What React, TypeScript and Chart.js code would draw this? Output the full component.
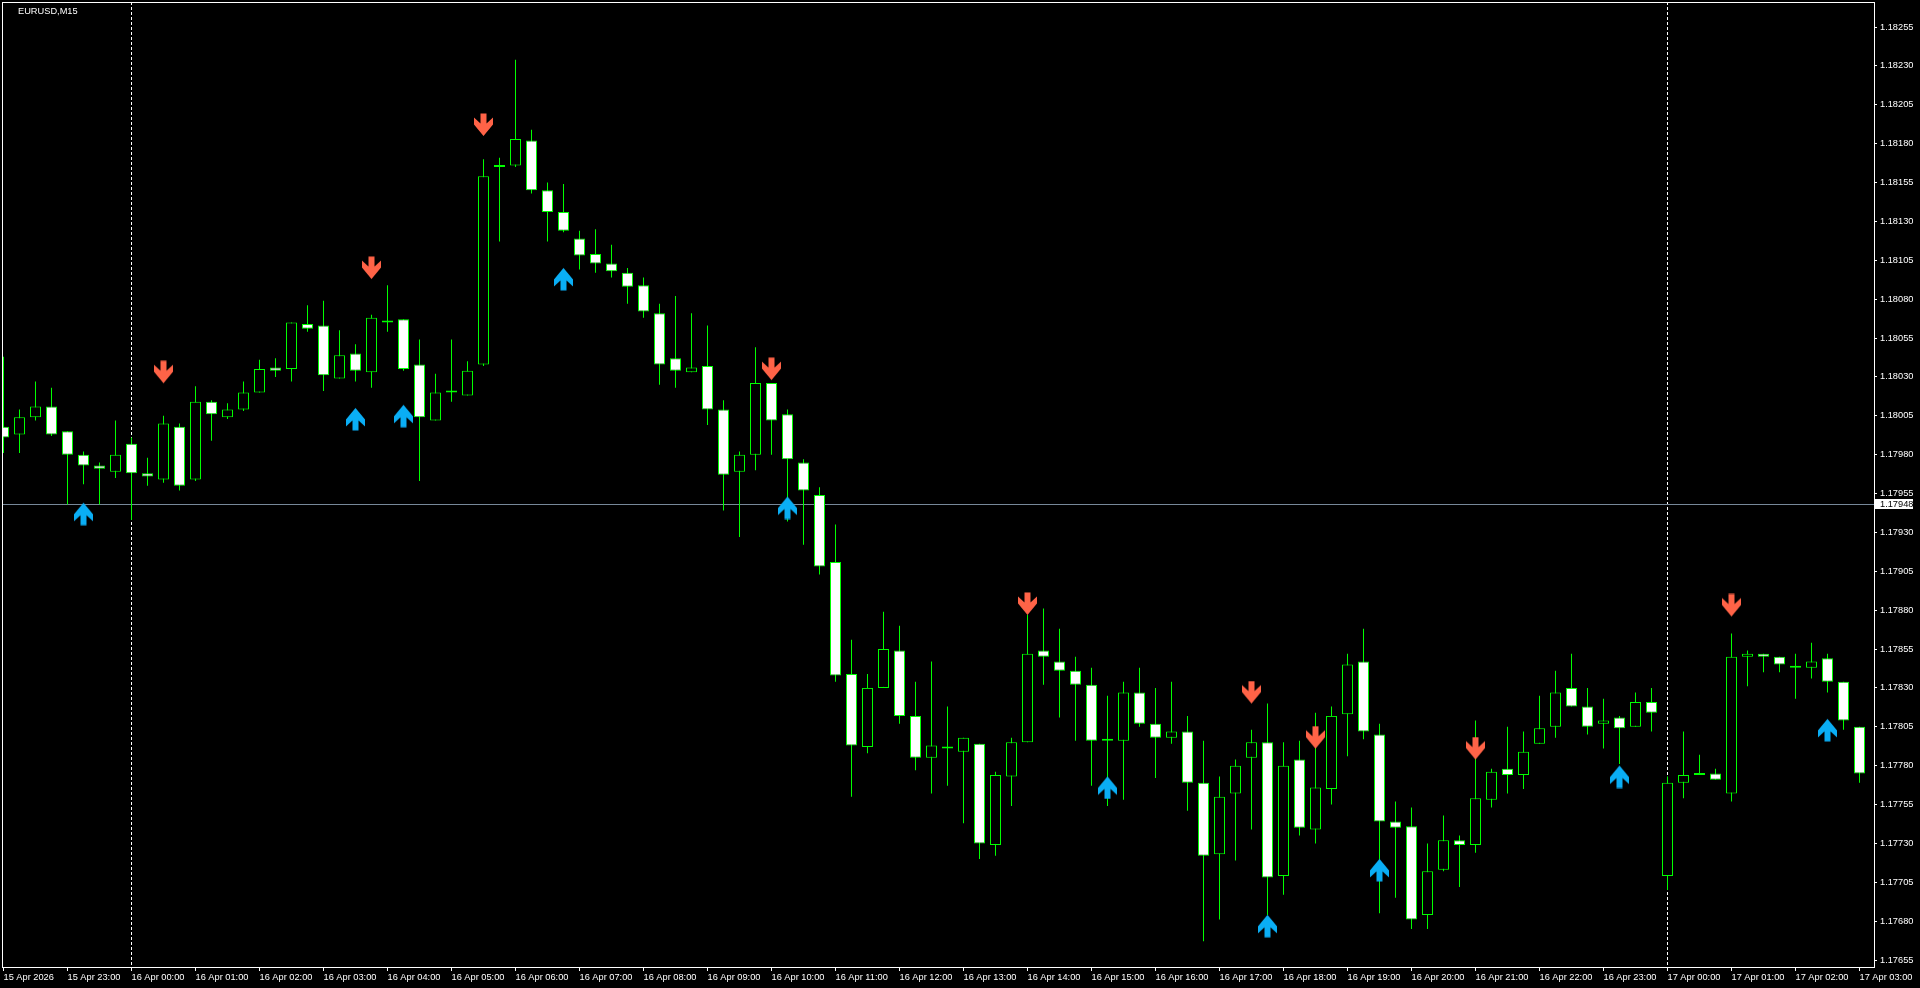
import React, { useEffect, useRef } from "react";
import { Chart, registerables } from "chart.js";

Chart.register(...registerables);

// ---- data (bar slots are counted in 15-minute bars from 16 Apr 00:00) ----
const chartTitle = "EURUSD,M15";
const firstBarSlot = -8;

const opens = [
  1.17998, 1.17993, 1.18004, 1.18011, 1.17995, 1.1798, 1.17973, 1.17969,
  1.17987, 1.17968, 1.17964, 1.17998, 1.17964, 1.18014, 1.18004, 1.18009, 1.1802, 1.18036,
  1.18035, 1.18064, 1.18063, 1.18029, 1.18045, 1.18033, 1.18065, 1.18067, 1.18038, 1.18002,
  1.1802, 1.18018, 1.18038, 1.18165, 1.18166, 1.18182, 1.1815, 1.18136, 1.18119, 1.18109,
  1.18103, 1.18097, 1.18089, 1.18071, 1.18042, 1.18033, 1.18037, 1.18009, 1.17969, 1.1798,
  1.18026, 1.18006, 1.17975, 1.17954, 1.17911, 1.17839, 1.17792, 1.1783, 1.17854, 1.17812,
  1.17785, 1.17792, 1.17789, 1.17794, 1.17729, 1.17773, 1.17795, 1.17854, 1.17847, 1.17841,
  1.17832, 1.17797, 1.17796, 1.17827, 1.17807, 1.17798, 1.17802, 1.17769, 1.17723, 1.17762,
  1.17785, 1.17795, 1.17709, 1.17784, 1.17739, 1.17765, 1.17813, 1.17847, 1.178, 1.17744,
  1.17741, 1.17684, 1.17713, 1.17732, 1.17729, 1.17758, 1.17778, 1.17774, 1.17794, 1.17805,
  1.1783, 1.17818, 1.17807, 1.17811, 1.17805, 1.17821, 1.17709, 1.17769, 1.17774, 1.17775,
  1.17762, 1.1785, 1.17852, 1.1785, 1.17843, 1.17843, 1.17849, 1.17834, 1.17805,
];
const highs = [
  1.18043, 1.18009, 1.18027, 1.18023, 1.17995, 1.17982, 1.17975, 1.18002,
  1.17991, 1.17978, 1.18005, 1.18, 1.18024, 1.18015, 1.18013, 1.18027, 1.18041, 1.18042,
  1.18065, 1.18076, 1.18079, 1.1806, 1.18051, 1.1807, 1.18089, 1.18067, 1.18054, 1.18032,
  1.18054, 1.1804, 1.1817, 1.18171, 1.18234, 1.18189, 1.18155, 1.18154, 1.18124, 1.18125,
  1.18115, 1.181, 1.18094, 1.18077, 1.18082, 1.18071, 1.18063, 1.18015, 1.17982, 1.18049,
  1.18026, 1.18009, 1.17977, 1.17959, 1.17935, 1.17861, 1.17839, 1.17879, 1.1787, 1.17834,
  1.17847, 1.17818, 1.17798, 1.17794, 1.17776, 1.17798, 1.17877, 1.17881, 1.17868, 1.1785,
  1.17843, 1.17825, 1.17834, 1.17843, 1.1783, 1.17834, 1.17812, 1.17796, 1.17773, 1.17784,
  1.17803, 1.1782, 1.17795, 1.17796, 1.17814, 1.17818, 1.17852, 1.17868, 1.17807, 1.17757,
  1.17753, 1.1773, 1.17748, 1.17735, 1.17809, 1.17778, 1.17805, 1.17802, 1.17825, 1.17841,
  1.17852, 1.1783, 1.17823, 1.17812, 1.17827, 1.1783, 1.17773, 1.17802, 1.17787, 1.17778,
  1.17865, 1.17854, 1.17852, 1.1785, 1.17852, 1.17859, 1.17852, 1.17834, 1.17805,
];
const lows = [
  1.17981, 1.17981, 1.18002, 1.17992, 1.17948, 1.17961, 1.17948, 1.17965,
  1.17938, 1.1796, 1.17962, 1.17957, 1.17963, 1.17989, 1.18003, 1.18008, 1.1802, 1.1803,
  1.18027, 1.18059, 1.18021, 1.18029, 1.18027, 1.18023, 1.18059, 1.18034, 1.17963, 1.18002,
  1.18014, 1.18018, 1.18037, 1.18117, 1.18165, 1.18148, 1.18117, 1.18123, 1.18099, 1.18097,
  1.18094, 1.18077, 1.18068, 1.18025, 1.18023, 1.18033, 1.17999, 1.17944, 1.17927, 1.1797,
  1.1798, 1.17937, 1.17922, 1.17903, 1.17834, 1.1776, 1.17788, 1.1783, 1.17807, 1.17777,
  1.17762, 1.17767, 1.17743, 1.1772, 1.17722, 1.17754, 1.17795, 1.17832, 1.17811, 1.17796,
  1.17767, 1.17754, 1.17758, 1.17805, 1.17772, 1.17794, 1.17751, 1.17667, 1.17681, 1.17719,
  1.17739, 1.17684, 1.17697, 1.17735, 1.1773, 1.17755, 1.17786, 1.17797, 1.17685, 1.17695,
  1.17675, 1.17675, 1.17712, 1.17702, 1.17724, 1.17753, 1.17762, 1.17765, 1.17794, 1.17798,
  1.17818, 1.178, 1.17791, 1.17781, 1.17805, 1.17802, 1.177, 1.17759, 1.17774, 1.17771,
  1.17757, 1.17831, 1.1784, 1.1784, 1.17823, 1.17836, 1.17827, 1.17803, 1.17769,
];
const closes = [
  1.17991, 1.18004, 1.18011, 1.17993, 1.1798, 1.17973, 1.17971, 1.1798,
  1.17968, 1.17966, 1.18, 1.1796, 1.18014, 1.18006, 1.18009, 1.1802, 1.18035, 1.18034,
  1.18065, 1.18061, 1.18031, 1.18044, 1.18034, 1.18068, 1.18065, 1.18035, 1.18004, 1.1802,
  1.1802, 1.18034, 1.18159, 1.18166, 1.18183, 1.1815, 1.18136, 1.18124, 1.18108, 1.18103,
  1.18098, 1.18088, 1.18072, 1.18038, 1.18034, 1.18036, 1.18009, 1.17967, 1.1798, 1.18026,
  1.18002, 1.17977, 1.17957, 1.17908, 1.17838, 1.17793, 1.1783, 1.17855, 1.17812, 1.17785,
  1.17793, 1.17791, 1.17798, 1.1773, 1.17774, 1.17795, 1.17852, 1.1785, 1.17841, 1.17832,
  1.17796, 1.17796, 1.17827, 1.17807, 1.17798, 1.17802, 1.17769, 1.17722, 1.1776, 1.1778,
  1.17795, 1.17708, 1.1778, 1.1774, 1.17766, 1.17812, 1.17845, 1.17802, 1.17744, 1.1774,
  1.17681, 1.17712, 1.17732, 1.17729, 1.17759, 1.17776, 1.17774, 1.17789, 1.17804, 1.17827,
  1.17818, 1.17805, 1.17809, 1.17804, 1.17821, 1.17814, 1.17769, 1.17774, 1.17774, 1.17771,
  1.1785, 1.17852, 1.1785, 1.17845, 1.17843, 1.17847, 1.17834, 1.17809, 1.17775,
];

const sellArrowSlots = [2, 15, 22, 40, 56, 70, 74, 84, 100];
const sellArrowPrices = [1.18033, 1.181, 1.18192, 1.18035, 1.17884, 1.17827, 1.17798, 1.17791, 1.17883];
const buyArrowSlots = [-3, 14, 17, 27, 41, 61, 71, 78, 93, 106];
const buyArrowPrices = [1.17942, 1.18003, 1.18005, 1.18093, 1.17946, 1.17766, 1.17677, 1.17713, 1.17773, 1.17803];

const timeTickSlots = [-8, -4, 0, 4, 8, 12, 16, 20, 24, 28, 32, 36, 40, 44, 48, 52, 56, 60, 64, 68, 72, 76, 80, 84, 88, 92, 96, 100, 104, 108];
const timeTickLabels = [
  "15 Apr 2026", "15 Apr 23:00", "16 Apr 00:00", "16 Apr 01:00", "16 Apr 02:00", "16 Apr 03:00",
  "16 Apr 04:00", "16 Apr 05:00", "16 Apr 06:00", "16 Apr 07:00", "16 Apr 08:00", "16 Apr 09:00",
  "16 Apr 10:00", "16 Apr 11:00", "16 Apr 12:00", "16 Apr 13:00", "16 Apr 14:00", "16 Apr 15:00",
  "16 Apr 16:00", "16 Apr 17:00", "16 Apr 18:00", "16 Apr 19:00", "16 Apr 20:00", "16 Apr 21:00",
  "16 Apr 22:00", "16 Apr 23:00", "17 Apr 00:00", "17 Apr 01:00", "17 Apr 02:00", "17 Apr 03:00",
];
const priceTicks = [
  1.18255, 1.1823, 1.18205, 1.1818, 1.18155, 1.1813, 1.18105, 1.1808, 1.18055, 1.1803, 1.18005,
  1.1798, 1.17955, 1.1793, 1.17905, 1.1788, 1.17855, 1.1783, 1.17805, 1.1778, 1.17755, 1.1773,
  1.17705, 1.1768, 1.17655,
];
const daySeparatorSlots = [0, 96];
const bidPrice = 1.17948;

// view window
const viewSlotMin = -8.09375;
const viewSlotMax = 108.90625;
const viewPriceMin = 1.176505;
const viewPriceMax = 1.182711;

const FONT_FAMILY = "'Liberation Sans', Arial, sans-serif";
const FONT_SIZE = 9.25;

function makeArrow(color: string, down: boolean) {
  const c = document.createElement("canvas");
  c.width = 21;
  c.height = 24;
  const g = c.getContext("2d")!;
  const cx = 10.5;
  const pts: [number, number][] = [
    [cx - 3, 0.5], [cx + 3, 0.5], [cx + 3, 10.5], [cx + 9.5, 4.5], [cx + 9.5, 11.5],
    [cx, 23], [cx - 9.5, 11.5], [cx - 9.5, 4.5], [cx - 3, 10.5],
  ];
  g.fillStyle = color;
  g.beginPath();
  pts.forEach(([x, y], i) => {
    const yy = down ? y : 24 - y;
    if (i === 0) g.moveTo(x, yy);
    else g.lineTo(x, yy);
  });
  g.closePath();
  g.fill();
  return c;
}

export default function App() {
  const ref = useRef<HTMLCanvasElement>(null);

  useEffect(() => {
    document.body.style.margin = "0";
    document.body.style.background = "#000";
    const canvas = ref.current!;
    const sellImg = makeArrow("#ff6347", true);
    const buyImg = makeArrow("#0aaef5", false);
    const slots = opens.map((_, i) => firstBarSlot + i);
    const font = { family: FONT_FAMILY, size: FONT_SIZE };

    const overlay = {
      id: "mtOverlay",
      beforeDraw(chart: any) {
        const c = chart.ctx;
        c.save();
        c.fillStyle = "#000";
        c.fillRect(0, 0, chart.width, chart.height);
        c.restore();
      },
      beforeDatasetsDraw(chart: any) {
        const c = chart.ctx;
        const a = chart.chartArea;
        const y = Math.round(chart.scales.y.getPixelForValue(bidPrice)) + 0.5;
        c.save();
        c.strokeStyle = "#778899";
        c.lineWidth = 1;
        c.beginPath();
        c.moveTo(a.left, y);
        c.lineTo(a.right, y);
        c.stroke();
        c.restore();
      },
      afterDraw(chart: any) {
        const c = chart.ctx;
        const a = chart.chartArea;
        c.save();
        c.strokeStyle = "#ffffff";
        c.lineWidth = 1;
        c.strokeRect(a.left + 0.5, a.top + 0.5, a.right - a.left, a.bottom - a.top);
        c.font = `${FONT_SIZE}px ${FONT_FAMILY}`;
        c.fillStyle = "#ffffff";
        c.textBaseline = "alphabetic";
        c.textAlign = "left";
        c.fillText(chartTitle, 18, 14);
        const y = chart.scales.y.getPixelForValue(bidPrice);
        c.fillStyle = "#ffffff";
        c.fillRect(a.right + 1, Math.round(y) - 5, 38, 10);
        c.fillStyle = "#000000";
        c.textBaseline = "middle";
        c.fillText(bidPrice.toFixed(5), a.right + 6, Math.round(y) + 0.5);
        c.restore();
      },
    };

    const chart = new Chart(canvas, {
      type: "bar",
      data: {
        datasets: [
          {
            type: "scatter",
            label: "sell",
            data: sellArrowSlots.map((s, i) => ({ x: s, y: sellArrowPrices[i] })),
            pointStyle: sellImg as any,
            pointRadius: 3,
            order: 0,
          } as any,
          {
            type: "scatter",
            label: "buy",
            data: buyArrowSlots.map((s, i) => ({ x: s, y: buyArrowPrices[i] })),
            pointStyle: buyImg as any,
            pointRadius: 3,
            order: 0,
          } as any,
          {
            type: "bar",
            label: "body",
            data: slots.map((s, i) => ({ x: s, y: [opens[i], closes[i]] })),
            backgroundColor: opens.map((o, i) => (closes[i] < o ? "#ffffff" : "#000000")),
            borderColor: "#00ff00",
            borderWidth: 1,
            borderSkipped: false,
            barThickness: 11,
            maxBarThickness: 11,
            minBarLength: 2,
            grouped: false,
            inflateAmount: 0,
            order: 1,
          } as any,
          {
            type: "bar",
            label: "wick",
            data: slots.map((s, i) => ({ x: s, y: [lows[i], highs[i]] })),
            backgroundColor: "#00ff00",
            borderWidth: 0,
            barThickness: 1,
            maxBarThickness: 1,
            grouped: false,
            inflateAmount: 0,
            order: 2,
          } as any,
        ],
      },
      options: {
        responsive: false,
        animation: false,
        devicePixelRatio: 1,
        events: [],
        layout: { padding: { left: 2, top: 2, right: 0, bottom: 0 }, autoPadding: false } as any,
        plugins: { legend: { display: false }, tooltip: { enabled: false }, title: { display: false } },
        scales: {
          x: {
            type: "linear",
            position: "bottom",
            min: viewSlotMin,
            max: viewSlotMax,
            offset: false,
            bounds: "data",
            grid: {
              display: true,
              offset: false,
              drawOnChartArea: true,
              drawTicks: true,
              tickLength: 4,
              tickColor: "#ffffff",
              tickWidth: 1,
              lineWidth: 1,
              borderDash: [3, 2],
              color: (ctx: any) =>
                ctx.tick && daySeparatorSlots.includes(ctx.tick.value) ? "#ffffff" : "rgba(0,0,0,0)",
            } as any,
            border: { display: false, dash: [3, 2] },
            ticks: {
              autoSkip: false,
              maxRotation: 0,
              minRotation: 0,
              align: "start",
              padding: 1,
              color: "#ffffff",
              font,
              callback: (_v: any, i: number) => timeTickLabels[i] ?? "",
            },
            afterBuildTicks: (s: any) => {
              s.ticks = timeTickSlots.map((v) => ({ value: v }));
            },
            afterFit: (s: any) => {
              s.height = 21;
              s.paddingLeft = 0;
              s.paddingRight = 0;
            },
          } as any,
          y: {
            type: "linear",
            position: "right",
            min: viewPriceMin,
            max: viewPriceMax,
            bounds: "data",
            grid: {
              display: true,
              drawOnChartArea: false,
              drawTicks: true,
              tickLength: 3,
              tickColor: "#ffffff",
              color: "rgba(0,0,0,0)",
            },
            border: { display: false },
            ticks: {
              padding: 3,
              color: "#ffffff",
              font,
              autoSkip: false,
              includeBounds: false,
              callback: (v: any) => Number(v).toFixed(5),
            },
            afterBuildTicks: (s: any) => {
              s.ticks = priceTicks.map((v) => ({ value: v }));
            },
            afterFit: (s: any) => {
              s.width = 46;
              s.paddingTop = 0;
              s.paddingBottom = 0;
            },
          } as any,
        },
      },
      plugins: [overlay],
    } as any);

    return () => chart.destroy();
  }, []);

  return (
    <div style={{ width: 1920, height: 988, background: "#000" }}>
      <canvas ref={ref} width={1920} height={988} style={{ display: "block" }} />
    </div>
  );
}
